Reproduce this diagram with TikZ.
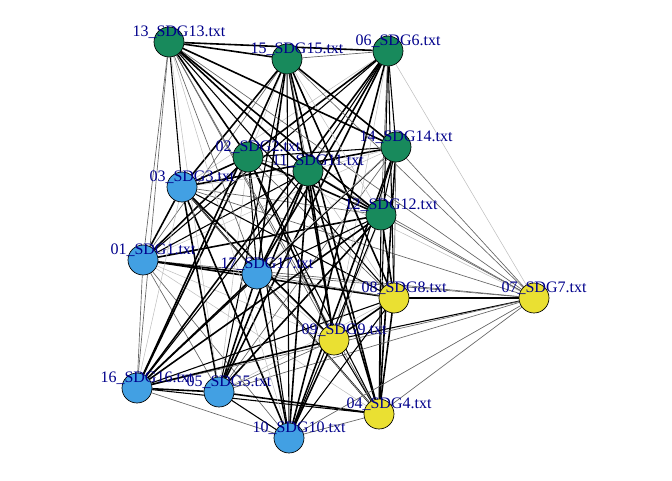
\documentclass[tikz,border=0pt]{standalone}
\usepackage{fontspec}
\setmainfont{Liberation Serif}
\usetikzlibrary{backgrounds}
\definecolor{cg}{RGB}{24,138,92}
\definecolor{cb}{RGB}{66,160,227}
\definecolor{cy}{RGB}{234,224,50}
\definecolor{lblue}{RGB}{0,0,139}
\tikzset{
  vtx/.style={circle, draw=black, line width=0.5pt, minimum size=22.5pt, inner sep=0pt},
  lab/.style={text=lblue, font=\fontsize{12}{14}\selectfont, inner sep=0pt},
  ea/.style={black, line width=1.2pt},
  eb/.style={black, line width=0.8pt},
  ec/.style={black!60, line width=0.5pt},
  ed/.style={black!25, line width=0.4pt}
}
\begin{document}
\begin{tikzpicture}[x=0.75pt, y=-0.75pt]
\useasboundingbox (0,0) rectangle (672,480);
\foreach \k/\x/\y/\c in {1/143/260/cb, 2/248/157/cg, 3/182/187/cb, 4/379/414/cy,
  5/219/392/cb, 6/388/51/cg, 7/534/298/cy, 8/394/298/cy, 9/334/340/cy,
  10/289/438/cb, 11/308/171/cg, 12/381/215/cg, 13/169/42/cg, 14/396/147/cg,
  15/287/59/cg, 16/137/388/cb, 17/257/274/cb}
  {\node[vtx, fill=\c] (n\k) at (\x,\y) {};}
\begin{scope}[on background layer]
\foreach \i in {1,...,16}{
  \foreach \j in {1,...,17}{
    \ifnum\j>\i
      \pgfmathtruncatemacro{\h}{mod(\i*7+\j*13+\i*\j*5,10)}
      \ifnum\h<4 \def\st{ea}\else\ifnum\h<7 \def\st{eb}\else\ifnum\h<9 \def\st{ec}\else\def\st{ed}\fi\fi\fi
      \ifnum\i=7
        \ifnum\j<10 \def\st{eb}\else\def\st{ec}\fi
      \fi
      \ifnum\j=7
        \ifodd\i \def\st{ec}\else\def\st{ed}\fi
        \ifnum\i=4 \def\st{ec}\fi
      \fi
      \ifnum\i=1
        \ifnum\j=13 \def\st{ec}\fi
        \ifnum\j=16 \def\st{ec}\fi
      \fi
      \ifnum\i=13
        \ifnum\j=16 \def\st{ec}\fi
      \fi
      \draw[\st] (n\i) -- (n\j);
    \fi
  }
}
\end{scope}
\foreach \k/\t in {1/01\_SDG1.txt, 2/02\_SDG2.txt, 3/03\_SDG3.txt, 4/04\_SDG4.txt,
  5/05\_SDG5.txt, 6/06\_SDG6.txt, 7/07\_SDG7.txt, 8/08\_SDG8.txt, 9/09\_SDG9.txt,
  10/10\_SDG10.txt, 11/11\_SDG11.txt, 12/12\_SDG12.txt, 13/13\_SDG13.txt,
  14/14\_SDG14.txt, 15/15\_SDG15.txt, 16/16\_SDG16.txt, 17/17\_SDG17.txt}
  {\node[lab] (l\k) at ([xshift=7.5pt,yshift=7.5pt]n\k.center) {\t};}
\end{tikzpicture}
\end{document}
